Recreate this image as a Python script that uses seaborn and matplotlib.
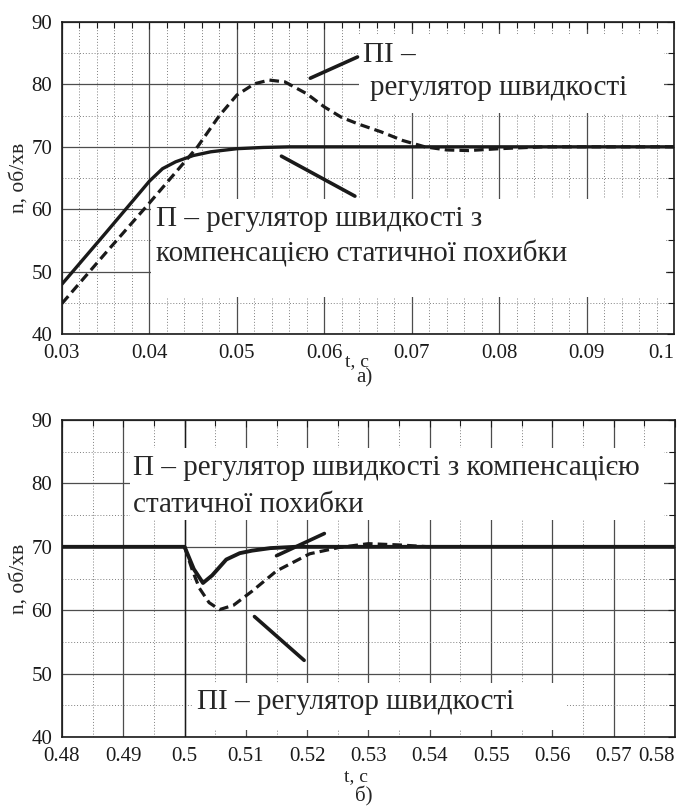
import numpy as np
import pandas as pd
import seaborn as sns
import matplotlib.pyplot as plt
from matplotlib.patches import Rectangle
from matplotlib.ticker import MultipleLocator

sns.set_theme(style="white")
plt.rcParams["font.family"] = ["Liberation Serif", "DejaVu Serif"]

# --- a) start-up transient ---
t_p_a = [0.030, 0.035, 0.0385, 0.040, 0.0415, 0.043, 0.045, 0.047, 0.050, 0.053, 0.056, 0.100]
n_p_a = [48.0, 56.2, 62.0, 64.5, 66.5, 67.6, 68.6, 69.2, 69.7, 69.9, 70.0, 70.0]

t_pi_a = [0.030, 0.035, 0.040, 0.0455, 0.048, 0.050, 0.052, 0.0537, 0.0555, 0.058,
          0.060, 0.062, 0.064, 0.0665, 0.069, 0.0715, 0.074, 0.0765, 0.080, 0.085, 0.100]
n_pi_a = [44.9, 53.0, 61.0, 70.0, 75.0, 78.3, 80.1, 80.7, 80.4, 78.5,
          76.4, 74.7, 73.6, 72.4, 71.0, 70.0, 69.5, 69.4, 69.7, 70.0, 70.0]

# --- b) load disturbance ---
t_p_b = [0.48, 0.500, 0.5015, 0.503, 0.5045, 0.5068, 0.509, 0.511, 0.514, 0.518, 0.58]
n_p_b = [70.0, 70.0, 66.5, 64.3, 65.5, 68.0, 69.0, 69.4, 69.8, 70.0, 70.0]

t_pi_b = [0.500, 0.5012, 0.5024, 0.504, 0.5057, 0.508, 0.511, 0.515, 0.5204, 0.5252,
          0.530, 0.535, 0.540]
n_pi_b = [70.0, 66.5, 63.5, 61.2, 60.1, 60.8, 63.0, 66.2, 68.9, 69.9,
          70.5, 70.3, 70.0]

xticks_a = [0.03, 0.04, 0.05, 0.06, 0.07, 0.08, 0.09, 0.1]
xticks_b = [0.48, 0.49, 0.5, 0.51, 0.52, 0.53, 0.54, 0.55, 0.56, 0.57, 0.58]

label_p = "П – регулятор швидкості з"
label_p2 = "компенсацією статичної похибки"
label_pi = "ПІ –"
label_pi2 = "регулятор швидкості"
label_pb = "П – регулятор швидкості з компенсацією"
label_pb2 = "статичної похибки"
label_pib = "ПІ – регулятор швидкості"

fig = plt.figure(figsize=(6.82, 8.07), dpi=100)
ax1 = fig.add_axes([0.0909, 0.5861, 0.8974, 0.3866])
ax2 = fig.add_axes([0.0909, 0.0867, 0.8988, 0.3928])


def style_axes(ax, xticks, xmin):
    ax.set_xlim(xticks[0], xticks[-1])
    ax.set_ylim(40, 90)
    ax.set_xticks(xticks, [f"{v:g}" for v in xticks])
    ax.xaxis.set_minor_locator(MultipleLocator(xmin))
    ax.yaxis.set_major_locator(MultipleLocator(10))
    ax.yaxis.set_minor_locator(MultipleLocator(5))
    ax.set_axisbelow(True)
    ax.grid(which="major", color="0.3", lw=0.9, ls="-")
    ax.grid(which="minor", color="0.5", lw=0.7, ls=(0, (1, 2)))
    ax.tick_params(which="both", direction="in", top=True, right=True,
                   labelsize=15, colors="k", length=5, width=0.8, pad=7)
    ax.tick_params(which="minor", length=4)
    ax.get_xticklabels()[-1].set_horizontalalignment("right")
    for s in ax.spines.values():
        s.set_color("k")
        s.set_linewidth(1.2)
    ax.set_xlabel("")
    ax.set_ylabel("n, об/хв", fontsize=15.5, labelpad=2)


def white_box(ax, x0, x1, y0, y1):
    ax.add_patch(Rectangle((x0, y0), x1 - x0, y1 - y0, facecolor="white",
                           edgecolor="none", zorder=1))


def leader(ax, p0, p1):
    ax.annotate("", xy=p1, xytext=p0,
                arrowprops=dict(arrowstyle="-", lw=2.6, color="k", shrinkA=0, shrinkB=0),
                zorder=4)


# top chart
sns.lineplot(x=t_pi_a, y=n_pi_a, ax=ax1, color="k", lw=2.3,
             linestyle=(0, (3, 1.6)), estimator=None, sort=False, zorder=2)
sns.lineplot(x=t_p_a, y=n_p_a, ax=ax1, color="k", lw=2.4,
             estimator=None, sort=False, zorder=3)
style_axes(ax1, xticks_a, 0.002)
white_box(ax1, 0.0640, 0.0989, 75.5, 88.1)
white_box(ax1, 0.0402, 0.0991, 46.0, 61.6)
ax1.text(0.0644, 84.7, label_pi, fontsize=21, va="center", ha="left", zorder=5)
ax1.text(0.0652, 79.4, label_pi2, fontsize=21, va="center", ha="left", zorder=5)
ax1.text(0.0408, 58.4, label_p, fontsize=21, va="center", ha="left", zorder=5)
ax1.text(0.0408, 52.9, label_p2, fontsize=21, va="center", ha="left", zorder=5)
leader(ax1, (0.0584, 81.0), (0.0638, 84.4))
leader(ax1, (0.0551, 68.5), (0.0635, 62.1))
fig.text(357 / 682, 1 - 362 / 807, "t, c", fontsize=14, ha="center", va="center")
fig.text(364 / 682, 1 - 378 / 807, "а)", fontsize=15, ha="center", va="center")

# bottom chart
sns.lineplot(x=t_pi_b, y=n_pi_b, ax=ax2, color="k", lw=2.3,
             linestyle=(0, (3, 1.6)), estimator=None, sort=False, zorder=2)
sns.lineplot(x=t_p_b, y=n_p_b, ax=ax2, color="k", lw=2.8,
             estimator=None, sort=False, zorder=3)
style_axes(ax2, xticks_b, 0.005)
ax2.axvline(0.5, color="k", lw=1.0, zorder=0.6)
white_box(ax2, 0.4911, 0.5782, 74.2, 85.6)
white_box(ax2, 0.5013, 0.5623, 41.1, 48.5)
ax2.text(0.49154, 82.4, label_pb, fontsize=21, va="center", ha="left", zorder=5)
ax2.text(0.49154, 76.6, label_pb2, fontsize=21, va="center", ha="left", zorder=5)
ax2.text(0.50195, 45.5, label_pib, fontsize=21, va="center", ha="left", zorder=5)
leader(ax2, (0.5150, 68.6), (0.5228, 72.1))
leader(ax2, (0.5114, 59.0), (0.5195, 52.1))
fig.text(356 / 682, 1 - 777 / 807, "t, c", fontsize=14, ha="center", va="center")
fig.text(364 / 682, 1 - 796 / 807, "б)", fontsize=15, ha="center", va="center")

fig.savefig("out.png", dpi=100, facecolor="white")
